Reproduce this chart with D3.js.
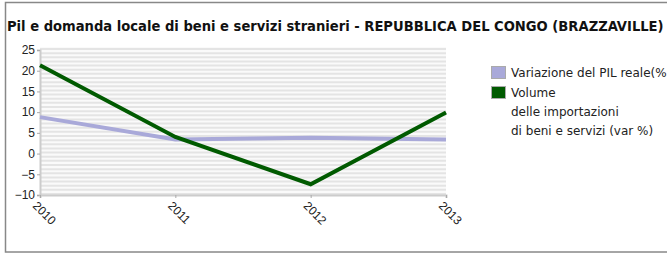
<!DOCTYPE html>
<html>
<head>
<meta charset="utf-8">
<script src="https://cdn.jsdelivr.net/npm/d3@7"></script>
<style>
body { margin: 0; background: #fff; }
svg { display: block; font-family: "DejaVu Sans", sans-serif; }
</style>
</head>
<body>
<div id="chart"></div>
<script>
// chart data
var years = ["2010", "2011", "2012", "2013"];
var pilReale = [8.8, 3.4, 3.8, 3.4];
var volumeImport = [21.3, 4.0, -7.4, 9.9];
var yTicks = [-10, -5, 0, 5, 10, 15, 20, 25];
var legendLabels = [["Variazione del PIL reale(%)"], ["Volume", "delle importazioni", "di beni e servizi (var %)"]];
var colors = ["#a9a9d9", "#005a00"];

var w = 667, h = 253;
var svg = d3.select("#chart").append("svg").attr("width", w).attr("height", h);

// outer frame
svg.append("rect").attr("x", 5.5).attr("y", 2.5).attr("width", 700).attr("height", 249.5)
	.attr("fill", "none").attr("stroke", "#888").attr("stroke-width", 1.5);

svg.append("text").attr("x", 7).attr("y", 31)
	.style("font-family", "'DejaVu Sans Condensed', 'DejaVu Sans', sans-serif")
	.style("font-weight", "bold").style("font-size", "14.6px").attr("fill", "#111")
	.text("Pil e domanda locale di beni e servizi stranieri - REPUBBLICA DEL CONGO (BRAZZAVILLE)");

var x = d3.scalePoint().domain(years).range([40, 446]);
var y = d3.scaleLinear().domain([-10, 25]).range([195, 50]);

// striped grid background
var grid = svg.append("g");
grid.append("rect").attr("x", 40).attr("y", 47).attr("width", 406).attr("height", 148).attr("fill", "#fafafa");
grid.selectAll("line").data(d3.range(-10, 26, 1)).enter().append("line")
	.attr("x1", 40).attr("x2", 446)
	.attr("y1", function(d){ return y(d) - 1; })
	.attr("y2", function(d){ return y(d) - 1; })
	.attr("stroke", "#e4e4e4").attr("stroke-width", 2);

var yAxis = svg.append("g").attr("transform", "translate(40,0)")
	.call(d3.axisLeft(y).tickValues(yTicks).tickSize(3).tickPadding(2));
var xAxis = svg.append("g").attr("transform", "translate(0,195)")
	.call(d3.axisBottom(x).tickSize(3).tickPadding(2));

svg.selectAll(".domain").attr("stroke", "#ccc").attr("stroke-width", 2);
svg.selectAll(".tick line").attr("stroke", "#aaa");
yAxis.selectAll("text").style("font-size", "12px").attr("fill", "#222");
xAxis.selectAll("text").style("font-size", "12px").attr("fill", "#222")
	.attr("text-anchor", "start").attr("dy", "0.35em")
	.attr("transform", "translate(-2,5) rotate(45)");

var line = d3.line()
	.x(function(d, i){ return x(years[i]); })
	.y(function(d){ return y(d); });

[pilReale, volumeImport].forEach(function(series, i){
	svg.append("path").datum(series).attr("d", line)
		.attr("fill", "none").attr("stroke", colors[i])
		.attr("stroke-width", 4).attr("stroke-linejoin", "miter");
});

// legend
var lg = svg.append("g").attr("transform", "translate(491,66)");
var offs = [0, 20];
legendLabels.forEach(function(lines, i){
	lg.append("rect").attr("x", 0.5).attr("y", offs[i] + 0.5).attr("width", 14).attr("height", 12)
		.attr("fill", colors[i]).attr("stroke", "#aaa");
	lines.forEach(function(t, j){
		lg.append("text").attr("x", 20).attr("y", offs[i] + 11 + j * 19)
			.style("font-size", "12px").attr("fill", "#222").text(t);
	});
});
</script>
</body>
</html>
